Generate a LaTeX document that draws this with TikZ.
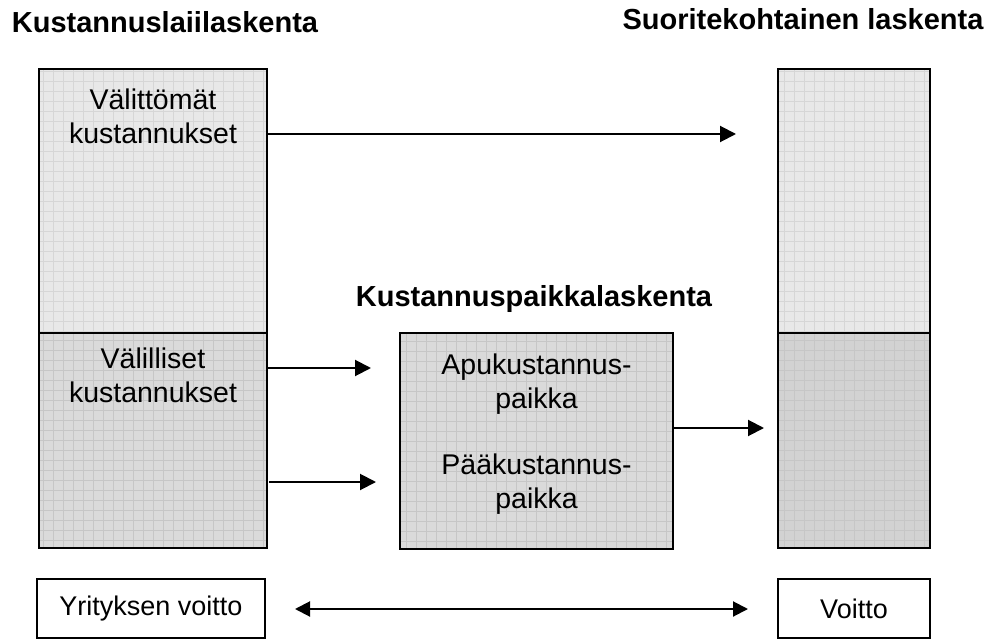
\documentclass[tikz,border=0pt]{standalone}
\usepackage{fontspec}
\setmainfont{Liberation Sans}
\usetikzlibrary{arrows.meta}
\definecolor{lightfill}{HTML}{E8E8E8}
\definecolor{midfill}{HTML}{DADADA}
\definecolor{darkfill}{HTML}{D2D2D2}
\definecolor{lightgrid}{HTML}{D6D6D6}
\definecolor{darkgrid}{HTML}{C6C6C6}
\tikzset{
  gridfill/.style={path picture={\draw[#1, line width=0.6pt, step=10pt]
      (path picture bounding box.south west) grid (path picture bounding box.north east);}},
  colbox/.style={draw=black, line width=2.2pt, inner sep=0pt, outer sep=0pt},
  midbox/.style={draw=black, line width=1.6pt, inner sep=0pt, outer sep=0pt},
  plainbox/.style={draw=black, line width=1.5pt, inner sep=0pt, outer sep=0pt, fill=white,
      font=\fontsize{27}{31}\selectfont},
  title/.style={font=\bfseries\fontsize{29}{34}\selectfont, anchor=base, inner sep=0pt},
  txt/.style={font=\fontsize{28.5}{34}\selectfont, anchor=base, inner sep=0pt},
  conn/.style={line width=2pt, -{Triangle[length=16pt,width=16pt]}},
  biconn/.style={line width=2pt, {Triangle[length=15pt,width=15pt]}-{Triangle[length=15pt,width=15pt]}},
}
\begin{document}
\begin{tikzpicture}[x=1pt,y=-1pt]
\useasboundingbox (0,0) rectangle (993,639);
% titles
\node[title] (t1) at (165,33) {Kustannuslaiilaskenta};
\node[title] (t2) at (803,30) {Suoritekohtainen laskenta};
\node[title] (t3) at (534,306) {Kustannuspaikkalaskenta};
% left column
\node[colbox, fill=lightfill, gridfill=lightgrid, minimum width=228pt, minimum height=264pt] (ltop) at (153,201) {};
\node[colbox, fill=midfill, gridfill=darkgrid, minimum width=228pt, minimum height=215pt] (lbot) at (153,440.5) {};
% right column
\node[colbox, fill=lightfill, gridfill=lightgrid, minimum width=152pt, minimum height=264pt] (rtop) at (854,201) {};
\node[colbox, fill=darkfill, gridfill=darkgrid, minimum width=152pt, minimum height=215pt] (rbot) at (854,440.5) {};
% middle box
\node[midbox, fill=midfill, gridfill=darkgrid, minimum width=273pt, minimum height=216pt] (mid) at (536.5,441) {};
% texts
\node[txt] (l1a) at (153,110) {Välittömät};
\node[txt] (l1b) at (153,144) {kustannukset};
\node[txt] (l2a) at (153,368) {Välilliset};
\node[txt] (l2b) at (153,402) {kustannukset};
\node[txt] (m1a) at (536.5,374) {Apukustannus-};
\node[txt] (m1b) at (536.5,408) {paikka};
\node[txt] (m2a) at (536.5,474) {Pääkustannus-};
\node[txt] (m2b) at (536.5,508) {paikka};
% bottom boxes
\node[plainbox, minimum width=228pt, minimum height=59pt] (ybox) at (151,608.5) {Yrityksen voitto};
\node[plainbox, minimum width=152pt, minimum height=59pt] (vbox) at (854,608.5) {Voitto};
% connectors
\coordinate (e1) at (736,134);
\coordinate (e2) at (371,368);
\coordinate (s3) at (269,482);
\coordinate (e3) at (376,482);
\coordinate (e4) at (764,428);
\coordinate (b1) at (295,609);
\coordinate (b2) at (748,609);
\draw[conn] (ltop.east |- e1) -- (e1);
\draw[conn] (lbot.east |- e2) -- (e2);
\draw[conn] (s3) -- (e3);
\draw[conn] (mid.east |- e4) -- (e4);
\draw[biconn] (b1) -- (b2);
\end{tikzpicture}
\end{document}
